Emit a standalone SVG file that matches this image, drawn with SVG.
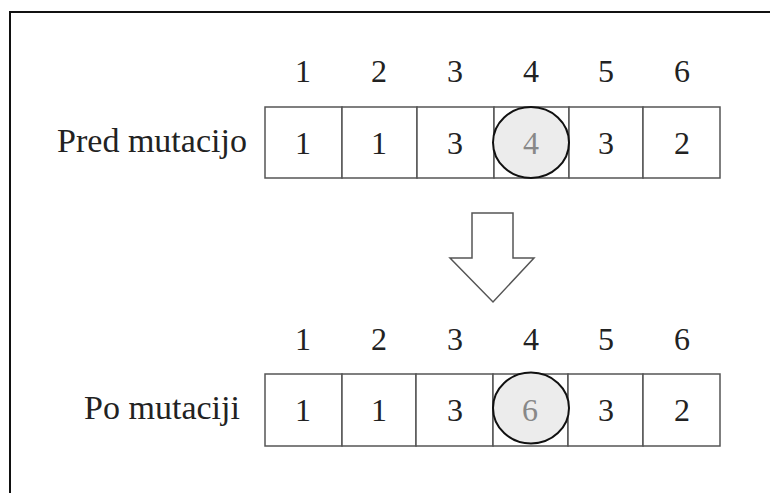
<svg xmlns="http://www.w3.org/2000/svg" width="770" height="493" viewBox="0 0 770 493">
  <style>
    text { font-family: 'Liberation Serif', 'Times New Roman', serif; font-size: 32px; fill: #222; text-anchor: middle; }
    .label { font-size: 34px; }
    .mut { fill: #888; }
    .cell { fill: #fff; stroke: #555; stroke-width: 1.5; }
    .ring { fill: #ececec; stroke: #111; stroke-width: 2; }
    .frame { fill: none; stroke: #111; stroke-width: 2; }
    .arrow { fill: #fff; stroke: #555; stroke-width: 1.5; }
  </style>

  <!-- outer frame (top and left edges) -->
  <path class="frame" d="M10,493 V12 H770"/>

  <!-- chromosome before mutation -->
  <g id="before">
    <text class="label" x="152" y="152">Pred mutacijo</text>
    <text x="303" y="82">1</text>
    <text x="379" y="82">2</text>
    <text x="455" y="82">3</text>
    <text x="531" y="82">4</text>
    <text x="606" y="82">5</text>
    <text x="682" y="82">6</text>
    <rect class="cell" x="265" y="107" width="77" height="71"/>
    <rect class="cell" x="342" y="107" width="75" height="71"/>
    <rect class="cell" x="417" y="107" width="77" height="71"/>
    <rect class="cell" x="494" y="107" width="75" height="71"/>
    <rect class="cell" x="569" y="107" width="74" height="71"/>
    <rect class="cell" x="643" y="107" width="77" height="71"/>
    <ellipse class="ring" cx="531" cy="142.5" rx="38" ry="35.5"/>
    <text x="303" y="154">1</text>
    <text x="379" y="154">1</text>
    <text x="455" y="154">3</text>
    <text class="mut" x="531" y="154">4</text>
    <text x="606" y="154">3</text>
    <text x="682" y="154">2</text>
  </g>

  <!-- transition arrow -->
  <g id="connectors">
    <path class="arrow" d="M472,213 H513 V258 H534 L493,302 L450,258 H472 Z"/>
  </g>

  <!-- chromosome after mutation -->
  <g id="after">
    <text class="label" x="162" y="419">Po mutaciji</text>
    <text x="303" y="350">1</text>
    <text x="379" y="350">2</text>
    <text x="455" y="350">3</text>
    <text x="531" y="350">4</text>
    <text x="606" y="350">5</text>
    <text x="682" y="350">6</text>
    <rect class="cell" x="265" y="374" width="77" height="72"/>
    <rect class="cell" x="342" y="374" width="74" height="72"/>
    <rect class="cell" x="416" y="374" width="77" height="72"/>
    <rect class="cell" x="493" y="374" width="75" height="72"/>
    <rect class="cell" x="568" y="374" width="75" height="72"/>
    <rect class="cell" x="643" y="374" width="77" height="72"/>
    <ellipse class="ring" cx="531" cy="408" rx="38" ry="35.5"/>
    <text x="303" y="421">1</text>
    <text x="379" y="421">1</text>
    <text x="455" y="421">3</text>
    <text class="mut" x="530" y="421">6</text>
    <text x="606" y="421">3</text>
    <text x="682" y="421">2</text>
  </g>
</svg>
